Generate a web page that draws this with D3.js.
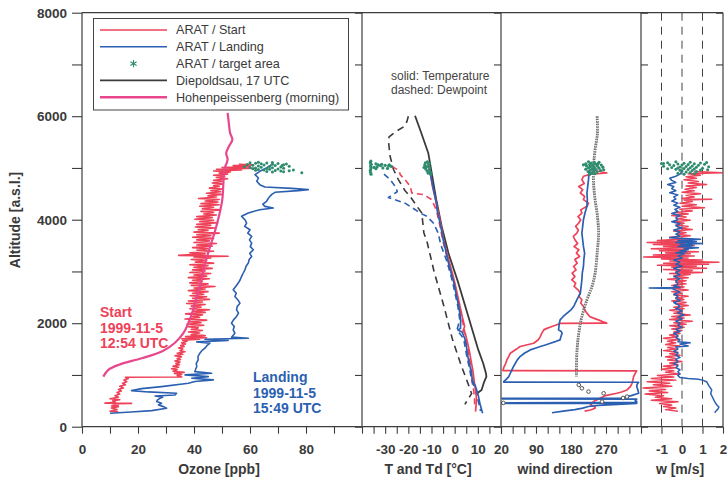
<!DOCTYPE html>
<html>
<head>
<meta charset="utf-8">
<script src="https://cdn.jsdelivr.net/npm/d3@7"></script>
<style>
  body { margin: 0; background: #fff; }
  svg { display: block; font-family: "Liberation Sans", Arial, sans-serif; }
</style>
</head>
<body>
<svg id="chart" width="727" height="480"></svg>
<script>
// ---------- data: [altitude m a.s.l., value] ----------

// Ozone [ppb]
const ozoneStart = [
  [5070,56],[5060,61],[5045,54],[5030,60],[5010,50],[4995,62],[4975,48],[4960,57],[4940,47],[4925,53],
  [4900,49],[4880,52],[4860,47],[4840,51],[4815,48],[4790,52],[4760,47],[4740,50],[4710,46.5],[4690,50.5],
  [4660,47],[4640,49],[4610,45.5],[4590,50],[4560,46],[4540,49.5],[4510,44.5],[4490,50],[4460,45],[4440,48],
  [4410,41.6],[4390,49],[4360,44],[4340,48.5],[4310,42.5],[4290,49],[4260,42],[4240,47],[4210,43],[4190,49.5],
  [4160,42.5],[4140,47],[4110,43.5],[4090,48],[4060,41],[4040,46.5],[4010,40.3],[3990,47],[3960,42],[3940,48.5],
  [3910,41],[3890,46],[3860,40.5],[3840,47.5],[3810,41.5],[3790,45],[3760,40],[3740,49],[3710,41],[3690,46],
  [3660,39.5],[3640,47],[3610,41],[3590,45.5],[3560,40],[3540,48],[3510,41],[3490,46.5],[3460,39.5],[3440,45],
  [3410,41],[3390,47],[3360,38.5],[3340,44],[3310,34.5],[3295,52.2],[3280,40],[3260,46],[3230,39],[3210,44.5],
  [3180,40.5],[3160,47],[3130,38.5],[3110,45],[3080,40],[3060,46.5],[3030,39.5],[3010,44],[2980,38.5],[2960,46],
  [2930,40],[2910,44.5],[2880,38],[2860,45.5],[2830,39.5],[2810,43],[2780,38.5],[2760,45],[2730,39],[2710,47.5],
  [2680,40],[2660,44],[2630,38],[2610,45],[2580,39.5],[2560,43.5],[2530,38.6],[2510,44.5],[2480,39.5],[2460,45.5],
  [2430,38],[2410,43],[2380,37.4],[2360,44],[2330,39],[2310,42.5],[2280,38.5],[2260,45.5],[2230,39.5],[2210,44],
  [2180,37],[2160,43],[2130,39.5],[2110,42],[2080,36.8],[2060,44.5],[2030,38],[2010,42.5],[1980,37.5],[1960,43.5],
  [1930,38],[1910,41.5],[1880,39],[1860,43],[1830,38],[1810,42],[1780,39],[1760,44],[1740,37],[1720,44.5],
  [1700,35.6],[1690,42],[1670,36],[1650,37.5],[1620,35.6],[1600,37],[1570,35.2],[1550,36.5],[1520,34.5],[1500,36],
  [1470,35],[1450,36.8],[1420,34],[1400,36],[1370,33.2],[1350,35.5],[1320,34],[1300,35.2],[1270,33.2],[1250,35],
  [1220,33.5],[1200,34.8],[1170,32.5],[1150,34.5],[1120,32],[1100,34],[1070,32.5],[1050,36.5],[1030,33],[1010,35.6],
  [990,34],[960,35.6],[955,15.5],[930,16.5],[900,15],[870,16],[840,14.5],[810,15.5],[780,13.5],[750,14.8],
  [720,13],[690,14],[660,12.5],[630,13.5],[600,11.8],[570,13],[540,10],[520,13.5],[500,11],[470,12],
  [455,8.2],[450,17.7],[440,11],[420,13],[400,10.5],[388,13],[360,10.5],[330,12.5],[300,10],[290,13]
];
const ozoneLanding = [
  [5064,67.7],[4999,65.9],[4935,63.5],[4871,61.8],[4806,63],[4742,62.4],[4677,63.5],[4632,65.3],[4606,74.9],[4581,80.8],
  [4561,77.2],[4529,68.9],[4490,67.8],[4451,67.1],[4400,66.4],[4355,65.9],[4300,64.6],[4258,65.3],[4226,68.3],[4193,63.5],
  [4160,61.2],[4129,59.4],[4065,57],[4000,58.2],[3935,58.8],[3870,58.1],[3806,60],[3740,59.2],[3677,60.6],[3610,59.8],
  [3548,60.6],[3480,60.1],[3419,61.2],[3350,59.9],[3290,60.6],[3230,59.7],[3162,59.4],[3100,58.6],[3032,58.2],[2970,57.6],
  [2904,57],[2840,56.5],[2775,55.8],[2710,54.9],[2645,54],[2580,55.1],[2517,54.6],[2450,55.7],[2387,56.4],[2320,55.4],
  [2259,55.2],[2195,55.9],[2130,55.2],[2065,54.1],[2000,53.4],[1935,54.4],[1872,54],[1807,54.6],[1730,53.4],[1710,59.4],
  [1691,43.9],[1665,52.2],[1639,41],[1613,45.7],[1565,44.6],[1517,43.9],[1470,42.8],[1420,42.1],[1355,41.4],[1291,41.5],
  [1225,40.8],[1162,41],[1110,40.6],[1065,40.3],[1033,46.3],[1001,36.8],[968,45.1],[936,39.2],[904,46.9],[872,40.3],
  [839,38],[775,28.4],[736,21.3],[698,17.7],[672,23.7],[646,33.8],[614,33.2],[594,26.1],[570,28.8],[549,27.8],
  [515,26.9],[485,26.7],[453,28.4],[420,27.3],[388,29.1],[356,30.2],[311,24.9],[285,17.5],[259,10]
];
const ozoneHohen = [
  [6064,52.0],[5935,52.3],[5677,52.9],[5548,53.7],[5419,52.5],[5290,51.5],[5161,52.0],[4968,50.8],[4710,50.5],[4387,50.1],
  [4065,48.9],[3742,47.3],[3419,45.4],[3097,43.7],[2774,42.4],[2452,40.7],[2129,38.9],[1807,36.2],[1613,33.0],[1452,28.5],
  [1323,21.3],[1194,13.0],[1097,9.4],[968,7.6]
];
const ozoneTarget = [
  [5100,60],[5090,62],[5080,64],[5095,66],[5070,68],[5085,70],[5060,72],[5075,73],[5050,61],[5040,63],
  [5055,65],[5030,67],[5045,69],[5020,71],[5035,74],[5010,60],[5000,62],[5015,64],[4990,66],[5005,68],
  [4980,70],[4995,72],[4970,63],[4960,65],[4975,67],[4950,69],[4940,71],[4930,66],[4920,68],[4945,74],
  [4960,75.5],[4925,72],[4905,78.5],[5065,59],[5025,58],[5110,63],[5105,68],[4985,61],[4955,62],[5045,71.5]
];

// Temperature and dewpoint [°C]
const tempDiep = [
  [6010,-17.1],[5700,-14.6],[5290,-11.4],[4900,-9.9],[4400,-8.0],[3870,-5.6],[3355,-2.7],[2774,1.6],[2130,5.9],[1484,10.2],
  [1227,12.3],[1033,13.5],[967,13.7],[850,12.6],[710,11.6],[633,9.3]
];
const dewDiep = [
  [6000,-20.0],[5900,-20.6],[5810,-21.5],[5700,-25.5],[5600,-28.3],[5540,-28.6],[5400,-28.3],[5230,-27.9],[4970,-26.4],[4775,-24.3],
  [4560,-21.4],[4450,-19.2],[4260,-16.3],[4130,-14.2],[3750,-13.3],[3550,-11.8],[3000,-8.9],[2322,-4.6],[1678,-0.9],[1161,3.0],
  [903,5.2],[640,7.3],[520,5.6],[430,4.4]
];
const tempStart = [
  [5040,-11.2],[4900,-10.5],[4645,-9.6],[4400,-8.3],[4129,-7.0],[3870,-5.8],[3613,-4.8],[3400,-3.6],[3226,-2.6],[2968,-1.0],
  [2774,0.1],[2550,1.2],[2323,2.3],[2100,3.4],[1936,4.3],[1850,3.6],[1800,4.6],[1613,5.6],[1450,6.4],[1291,7.0],
  [1100,7.8],[969,8.2],[850,8.5],[710,9.0],[550,9.4],[388,9.2],[290,9.0]
];
const dewStart = [
  [5031,-27.1],[4950,-24.0],[4870,-23.5],[4774,-21.4],[4645,-19.2],[4516,-18.5],[4484,-13.5],[4445,-12.0],[4387,-9.9],[4258,-8.6],
  [4129,-7.6],[3871,-6.3],[3613,-5.2],[3400,-4.0],[3226,-2.9],[2968,-1.3],[2774,-0.2],[2323,2.0],[1936,3.9],[1613,5.2],
  [1291,6.5],[1033,7.2],[850,7.6],[700,8.2],[550,8.6],[388,8.6]
];
const tempLanding = [
  [4950,-10.8],[4600,-9.2],[4300,-7.8],[4194,-7.6],[3870,-6.0],[3613,-4.9],[3226,-3.0],[2968,-1.5],[2774,-0.3],[2500,0.9],
  [2323,1.8],[2065,2.6],[1900,2.5],[1870,1.4],[1830,3.2],[1700,4.4],[1550,5.1],[1420,5.4],[1230,6.3],[1033,7.3],
  [900,7.6],[800,8.8],[710,9.5],[600,10.2],[450,10.9],[300,11.8],[260,12.1]
];
const dewLanding = [
  [4880,-30.5],[4774,-27.8],[4613,-25.2],[4540,-24.8],[4430,-28.6],[4320,-21.4],[4193,-17.0],[4129,-14.9],[4064,-12.0],[3935,-9.2],
  [3742,-7.1],[3516,-6.0],[3226,-3.6],[2968,-1.9],[2774,-0.8],[2323,1.4],[2065,2.2],[1870,1.0],[1700,3.9],[1420,5.0],
  [1230,5.9],[1033,6.8],[900,7.3],[710,9.0],[450,10.4],[300,11.2]
];
const tempTarget = [
  [5120,-11.8],[5100,-12.6],[5080,-11.2],[5060,-12.9],[5040,-11.5],[5020,-12.2],[5000,-10.8],[4980,-12.5],[4960,-11.0],[4940,-11.9],
  [4920,-10.5],[4900,-11.4],[4880,-10.2],[5090,-10.9],[5010,-13.2]
];
const dewTarget = [
  [5130,-36.2],[5100,-36.4],[5070,-36.0],[5040,-36.3],[5010,-36.1],[4980,-36.2],[4950,-36.4],[4910,-36.3],[4880,-36.1],[5080,-34.0],
  [5060,-33.0],[5070,-31.5],[5050,-30.0],[5040,-28.5],[5030,-27.3],[5020,-33.5],[5000,-31.0],[4990,-29.0],[5010,-34.8],[5060,-28.2],
  [5045,-32.0],[4985,-34.0]
];

// Wind direction [deg]
const windStart = [
  [4950,240],[4903,272],[4880,232],[4840,212],[4774,208],[4700,214],[4640,200],[4580,210],[4516,204],[4450,215],
  [4387,212],[4320,225],[4258,221],[4190,205],[4129,208],[4060,198],[4000,205],[3936,200],[3870,192],[3800,199],
  [3742,195],[3680,186],[3613,190],[3540,197],[3480,188],[3420,200],[3355,194],[3290,202],[3230,190],[3160,196],
  [3097,187],[3030,193],[2968,183],[2900,190],[2839,182],[2775,192],[2710,188],[2645,198],[2581,204],[2520,200],
  [2452,208],[2390,205],[2323,212],[2260,215],[2194,221],[2130,228],[2098,238],[2060,252],[2020,265],[2000,272],
  [1995,152],[1960,140],[1936,131],[1900,118],[1871,110],[1807,105],[1740,101],[1680,96],[1613,84],[1549,49],
  [1500,40],[1420,24],[1360,20],[1291,15],[1220,12],[1162,8],[1085,5],[1078,349],[1030,345],[968,341],
  [900,339],[839,337],[780,333],[710,324],[670,310],[646,298],[600,268],[549,255],[485,238],[420,230],
  [380,242],[356,242],[323,230],[300,215]
];
const windLanding = [
  [4950,229],[4880,226],[4774,225],[4645,223],[4516,221],[4387,222],[4258,221],[4129,216],[4000,212],[3871,210],
  [3742,208],[3613,210],[3484,212],[3355,215],[3226,213],[3097,212],[2968,209],[2839,208],[2710,206],[2581,204],
  [2452,195],[2323,187],[2259,180],[2194,170],[2130,160],[2065,152],[2000,150],[1936,149],[1871,148],[1840,155],
  [1807,157],[1740,154],[1678,152],[1645,140],[1613,127],[1580,114],[1549,101],[1517,88],[1484,75],[1420,60],
  [1355,49],[1291,42],[1227,37],[1162,32],[1097,28],[1033,24],[968,20],[920,14],[872,7],[862,7],
  [859,354],[820,350],[775,349],[710,352],[646,354],[600,335],[581,324],[560,310],[550,310],[549,3],
  [535,4],[532,349],[500,345],[485,349],[470,349],[458,4],[450,4],[448,349],[430,300],[410,250],
  [390,225],[360,210],[330,190],[300,160],[270,131]
];
const windDiep = [
  [6000,247],[5677,248],[5354,242],[5032,238],[4710,238],[4387,242],[4065,248],[3742,251],[3420,248],[2968,242],
  [2710,234],[2452,221],[2130,208],[1807,200],[1420,195],[968,194]
];
const windDiepLow = [
  [807,200],[742,208],[678,225],[646,264],[581,324],[555,314],[484,260],[460,6]
];
const windTarget = [
  [5120,225],[5105,240],[5095,232],[5085,250],[5080,218],[5070,245],[5065,228],[5055,258],[5050,236],[5040,220],
  [5035,248],[5025,230],[5015,262],[5010,240],[5000,225],[4995,252],[4985,235],[4975,218],[4970,244],[4960,230],
  [4950,256],[4940,238],[4930,224],[4920,247],[4905,233],[4890,241],[4880,228],[5110,252],[5060,212],[4965,264]
];

// Vertical wind w [m/s]
const wStart = [
  [4930,0.6],[4905,1.95],[4890,0.3],[4860,0.9],[4830,0.2],[4800,0.7],[4770,0.1],[4740,0.8],[4710,0.3],[4680,1.2],
  [4650,0.2],[4620,0.7],[4590,0.15],[4560,0.6],[4530,0.0],[4500,0.9],[4470,0.2],[4440,0.6],[4410,0.0],[4395,1.45],
  [4380,0.1],[4350,0.5],[4320,-0.1],[4290,0.7],[4260,0.0],[4230,1.1],[4200,-0.1],[4170,0.5],[4140,-0.3],[4110,0.3],
  [4080,-0.5],[4050,0.2],[4020,-0.2],[3990,0.4],[3960,-0.4],[3930,0.1],[3900,-0.3],[3870,0.3],[3840,-0.2],[3810,0.5],
  [3780,-0.4],[3750,0.2],[3720,-0.2],[3690,0.4],[3660,-0.6],[3630,0.3],[3600,-1.2],[3580,0.5],[3560,-1.7],[3540,0.1],
  [3520,-1.4],[3500,0.6],[3480,-0.9],[3460,0.3],[3440,-1.5],[3420,0.2],[3400,-1.1],[3380,0.8],[3360,-0.8],[3340,0.4],
  [3320,-1.4],[3300,0.6],[3280,-1.87],[3260,0.3],[3240,-1.0],[3220,1.0],[3200,-0.6],[3180,1.8],[3160,-0.9],[3140,1.3],
  [3120,-1.2],[3100,0.7],[3080,-0.5],[3060,1.2],[3040,-0.9],[3020,0.5],[3000,-0.3],[2980,1.0],[2960,-0.6],[2940,0.4],
  [2910,-0.4],[2880,0.3],[2850,-0.7],[2820,0.2],[2790,-0.3],[2760,0.2],[2730,-0.5],[2700,0.1],[2670,-0.4],[2640,0.3],
  [2610,-0.5],[2580,0.0],[2550,-0.4],[2520,0.3],[2490,-0.3],[2460,0.1],[2430,-0.5],[2400,0.2],[2370,-0.3],[2340,0.3],
  [2310,-0.4],[2280,0.1],[2250,-0.6],[2220,0.0],[2190,-0.4],[2160,0.4],[2130,-0.5],[2100,0.1],[2070,-0.6],[2040,0.5],
  [2010,-0.4],[1980,0.2],[1950,-0.6],[1920,0.1],[1890,-0.5],[1860,0.0],[1830,-0.4],[1800,-0.1],[1770,-0.6],[1740,-0.2],
  [1710,-0.9],[1680,-0.2],[1650,-0.7],[1620,-0.3],[1590,-0.8],[1560,-0.1],[1530,-0.7],[1500,-0.3],[1470,-0.9],[1440,-0.2],
  [1410,-0.6],[1380,-0.1],[1350,-0.8],[1320,-0.3],[1290,-0.7],[1260,0.0],[1230,-0.6],[1200,-0.2],[1170,-0.9],[1140,-0.3],
  [1110,-1.0],[1080,-0.4],[1050,-0.8],[1020,-0.1],[990,-1.2],[960,-0.4],[930,-1.5],[900,-0.3],[870,-1.7],[840,-0.6],
  [810,-1.4],[780,-0.5],[750,-1.9],[720,-0.8],[690,-1.6],[660,-0.7],[630,-1.8],[600,-0.9],[570,-1.3],[540,-0.5],
  [510,-1.5],[480,-0.2],[450,-1.1],[420,-0.5],[390,-0.9],[360,-0.3],[330,-0.8],[300,-0.2]
];
const wLanding = [
  [4930,0.0],[4880,-0.1],[4840,-0.3],[4800,-0.6],[4760,-0.5],[4720,-0.3],[4680,-0.7],[4640,-0.4],[4600,-0.5],[4560,-0.3],
  [4520,-0.6],[4480,-0.2],[4440,-0.4],[4400,-0.3],[4360,-0.5],[4320,-0.2],[4280,-0.4],[4240,-0.1],[4200,-0.35],[4160,-0.2],
  [4120,-0.5],[4080,-0.1],[4040,-0.3],[4000,-0.2],[3960,-0.5],[3920,-0.1],[3880,-0.3],[3840,0.0],[3800,-0.4],[3760,-0.1],
  [3720,-0.3],[3680,-0.1],[3650,-0.6],[3620,0.9],[3600,-0.2],[3580,0.7],[3560,-0.3],[3540,1.0],[3520,-0.1],[3500,0.5],
  [3480,-0.2],[3460,0.8],[3440,0.1],[3420,0.3],[3400,-0.1],[3380,0.2],[3360,-0.3],[3340,0.1],[3300,-0.2],[3260,0.0],
  [3220,-0.4],[3180,-0.1],[3140,-0.3],[3100,0.0],[3060,-0.4],[3020,-0.1],[2980,-0.3],[2940,-0.1],[2900,-0.4],[2860,-0.1],
  [2820,-0.3],[2760,-0.2],[2720,-0.4],[2690,-0.1],[2680,-1.6],[2670,-0.5],[2640,-0.3],[2600,-0.1],[2560,-0.4],[2520,-0.2],
  [2480,-0.3],[2440,-0.1],[2400,-0.4],[2360,-0.2],[2320,-0.1],[2280,-0.3],[2240,0.0],[2200,-0.2],[2160,0.1],[2120,-0.2],
  [2080,0.0],[2040,-0.3],[2000,-0.1],[1960,-0.2],[1920,0.0],[1880,-0.3],[1840,-0.1],[1800,-0.4],[1760,-0.2],[1720,-0.3],
  [1680,-0.1],[1640,-0.2],[1620,0.4],[1600,-0.1],[1560,0.3],[1540,-0.3],[1500,-0.2],[1460,-0.4],[1420,-0.2],[1380,-0.3],
  [1340,-0.1],[1300,-0.3],[1260,-0.2],[1220,-0.4],[1180,-0.2],[1140,-0.3],[1100,-0.1],[1060,-0.2],[1020,-0.1],[990,-0.2],
  [950,-0.1],[930,0.3],[915,0.8],[900,1.0],[870,1.2],[800,1.3],[710,1.45],[640,1.4],[560,1.5],[480,1.6],
  [420,1.7],[380,1.8],[340,1.75],[300,1.65],[270,1.6]
];
const wTarget = [
  [5120,-0.3],[5110,0.4],[5100,-0.7],[5095,0.9],[5090,0.1],[5085,-1.0],[5080,0.6],[5075,-0.2],[5070,1.1],[5065,0.3],
  [5060,-0.6],[5055,0.0],[5050,0.8],[5045,-0.4],[5040,0.5],[5035,-0.9],[5030,0.2],[5025,1.3],[5020,-0.1],[5015,0.7],
  [5010,-0.5],[5005,0.4],[5000,-0.2],[4995,1.0],[4990,0.1],[4985,-0.7],[4980,0.6],[4975,-0.3],[4970,0.3],[4960,0.9],
  [4955,-0.1],[4950,0.5],[4940,0.0],[4930,0.7],[4920,0.2],[4910,0.4],[4900,-0.2],[4890,0.6],[4880,0.1],[5105,1.2],
  [4965,1.25],[5085,-0.9]
];

// Axis ticks and legend entries
const altTicks = [0, 1000, 2000, 3000, 4000, 5000, 6000, 7000, 8000];
const ozoneTicks = [0, 10, 20, 30, 40, 50, 60, 70, 80, 90];
const tempTicks = [-40, -35, -30, -25, -20, -15, -10, -5, 0, 5, 10, 15, 20];
const dirTicks = [0, 30, 60, 90, 120, 150, 180, 210, 240, 270, 300, 330];
const wTicks = [-2, -1, 0, 1, 2];
const legendLabels = ["ARAT / Start", "ARAT / Landing", "ARAT / target area", "Diepoldsau, 17 UTC", "Hohenpeissenberg (morning)"];

// ---------- drawing ----------
const C = {
  start: "#ee4259", landing: "#2b5fb1", target: "#2e8c6e",
  diep: "#3a3a3a", hohen: "#e8478e", axis: "#3d3d3d", text: "#3a3a3a"
};

const svg = d3.select("#chart");
const yTop = 12.7, yBot = 426.7;
const y = d3.scaleLinear().domain([0, 8000]).range([yBot, yTop]);
const xO3 = d3.scaleLinear().domain([0, 100]).range([82, 362]);
const xT = d3.scaleLinear().domain([-40, 20]).range([362, 501]);
const xDir = d3.scaleLinear().domain([0, 360]).range([501, 641]);
const xW = d3.scaleLinear().domain([-2, 2]).range([641, 723]);

const defs = svg.append("defs");
function panel(id, xs) {
  const [x0, x1] = xs.range();
  defs.append("clipPath").attr("id", id)
    .append("rect").attr("x", x0).attr("y", yTop).attr("width", x1 - x0).attr("height", yBot - yTop);
  return svg.append("g").attr("clip-path", `url(#${id})`);
}

function drawLine(g, data, xs, color, width, dash, curve) {
  const gen = d3.line().x(d => xs(d[1])).y(d => y(d[0]));
  if (curve) gen.curve(curve);
  g.append("path").datum(data)
    .attr("d", gen)
    .attr("fill", "none")
    .attr("stroke", color)
    .attr("stroke-width", width)
    .attr("stroke-linejoin", "round")
    .attr("stroke-dasharray", dash || null);
}
function drawDots(g, data, xs, color, r) {
  g.selectAll(null).data(data).enter().append("circle")
    .attr("cx", d => xs(d[1])).attr("cy", d => y(d[0]))
    .attr("r", r).attr("fill", color);
}

// Ozone panel
const gO3 = panel("clipO3", xO3);
drawLine(gO3, ozoneStart, xO3, C.start, 1.6);
drawLine(gO3, ozoneLanding, xO3, C.landing, 1.6);
drawLine(gO3, ozoneHohen, xO3, C.hohen, 2.2, null, d3.curveCatmullRom);
drawDots(gO3, ozoneTarget, xO3, C.target, 1.5);

// Temperature / dewpoint panel
const gT = panel("clipT", xT);
drawLine(gT, dewDiep, xT, C.diep, 1.6, "7,5");
drawLine(gT, tempDiep, xT, C.diep, 1.8);
drawLine(gT, dewStart, xT, C.start, 1.6, "6,4");
drawLine(gT, dewLanding, xT, C.landing, 1.6, "6,4");
drawLine(gT, tempStart, xT, C.start, 1.7);
drawLine(gT, tempLanding, xT, C.landing, 1.7);
drawDots(gT, tempTarget, xT, C.target, 1.6);
drawDots(gT, dewTarget, xT, C.target, 1.6);

// Wind direction panel
const gD = panel("clipD", xDir);
drawLine(gD, windStart, xDir, C.start, 1.7);
drawLine(gD, windLanding, xDir, C.landing, 1.7);
drawLine(gD, windDiep, xDir, "#6a6a6a", 2.8, "1.6,0.9", d3.curveCatmullRom);
drawLine(gD, windDiep, xDir, "#dcdcdc", 0.8, "0.8,1.7", d3.curveCatmullRom);
gD.selectAll(null).data(windDiepLow).enter().append("circle")
  .attr("cx", d => xDir(d[1])).attr("cy", d => y(d[0]))
  .attr("r", 1.8).attr("fill", "#fff").attr("stroke", "#555").attr("stroke-width", 1);
drawDots(gD, windTarget, xDir, C.target, 1.6);

// Vertical wind panel
const gW = panel("clipW", xW);
[-1, 0, 1].forEach(v => {
  gW.append("line").attr("x1", xW(v)).attr("x2", xW(v)).attr("y1", yTop).attr("y2", yBot)
    .attr("stroke", "#444").attr("stroke-width", 1).attr("stroke-dasharray", "8,6");
});
drawLine(gW, wStart, xW, C.start, 1.5);
drawLine(gW, wLanding, xW, C.landing, 1.5);
drawDots(gW, wTarget, xW, C.target, 1.5);

// ---------- axes ----------
const tickFont = { size: "13.5px", weight: "bold" };
function styleAxis(g) {
  g.select(".domain").remove();
  g.selectAll(".tick line").attr("stroke", C.axis).attr("stroke-width", 1.1);
  g.selectAll(".tick text").attr("fill", C.text)
    .style("font-size", tickFont.size).style("font-weight", tickFont.weight)
    .style("font-family", '"Liberation Sans", Arial, sans-serif');
}
function bottomAxis(xs, values, fmt) {
  const g = svg.append("g").attr("transform", `translate(0,${yBot})`)
    .call(d3.axisBottom(xs).tickValues(values).tickSize(7).tickPadding(11).tickFormat(fmt));
  styleAxis(g);
}
bottomAxis(xO3, ozoneTicks, d => (d % 20 === 0 ? String(d) : ""));
bottomAxis(xT, tempTicks, d => (d % 10 === 0 && d > -40 ? String(d) : ""));
bottomAxis(xDir, dirTicks, d => ([90, 180, 270].includes(d) ? String(d) : ""));
bottomAxis(xW, wTicks, d => (d > -2 ? String(d) : ""));

// altitude axis
const gy = svg.append("g").attr("transform", `translate(${xO3(0)},0)`)
  .call(d3.axisLeft(y).tickValues(altTicks).tickSize(10).tickPadding(5)
    .tickFormat(d => (d % 2000 === 0 ? String(d) : "")));
styleAxis(gy);

// inner tick marks on panel borders
function innerTicks(x, dir) {
  const ax = dir < 0 ? d3.axisLeft(y) : d3.axisRight(y);
  const g = svg.append("g").attr("transform", `translate(${x},0)`)
    .call(ax.tickValues(altTicks).tickSize(7).tickFormat(() => ""));
  styleAxis(g);
}
innerTicks(362, -1);
innerTicks(501, -1);
innerTicks(641, 1);
innerTicks(723, -1);

// frame
const frame = svg.append("g").attr("stroke", C.axis).attr("stroke-width", 1.2).attr("fill", "none");
frame.append("line").attr("x1", 82).attr("x2", 723).attr("y1", yTop).attr("y2", yTop);
frame.append("line").attr("x1", 82).attr("x2", 723).attr("y1", yBot).attr("y2", yBot);
[82, 362, 501, 641, 723].forEach(x => {
  frame.append("line").attr("x1", x).attr("x2", x).attr("y1", yTop).attr("y2", yBot);
});

// axis titles
const titleStyle = sel => sel.attr("fill", C.text).style("font-size", "14px").style("font-weight", "bold");
titleStyle(svg.append("text").attr("x", 219).attr("y", 474).attr("text-anchor", "middle").text("Ozone [ppb]"));
titleStyle(svg.append("text").attr("x", 428).attr("y", 474).attr("text-anchor", "middle").text("T and Td [°C]"));
titleStyle(svg.append("text").attr("x", 565).attr("y", 474).attr("text-anchor", "middle").text("wind direction"));
titleStyle(svg.append("text").attr("x", 680).attr("y", 474).attr("text-anchor", "middle").text("w [m/s]"));
titleStyle(svg.append("text").attr("transform", "translate(20,220) rotate(-90)")
  .attr("text-anchor", "middle").text("Altitude [a.s.l.]"));

// flight annotations
function block(x, y0, lines, color) {
  const t = svg.append("text").attr("x", x).attr("y", y0).attr("fill", color)
    .style("font-size", "14px").style("font-weight", "bold");
  lines.forEach((s, i) => t.append("tspan").attr("x", x).attr("dy", i === 0 ? 0 : 15.7).text(s));
}
block(100, 317, ["Start", "1999-11-5", "12:54 UTC"], C.start);
block(253, 382, ["Landing", "1999-11-5", "15:49 UTC"], C.landing);

// line style note
const note = svg.append("text").attr("x", 391).attr("y", 80).attr("fill", "#444").style("font-size", "12px");
note.append("tspan").attr("x", 391).text("solid: Temperature");
note.append("tspan").attr("x", 391).attr("dy", 13.6).text("dashed: Dewpoint");

// legend
const lg = svg.append("g");
lg.append("rect").attr("x", 93.5).attr("y", 18.5).attr("width", 255).attr("height", 91.5)
  .attr("fill", "#fff").attr("stroke", "#444").attr("stroke-width", 1);
const legendStyle = [
  { color: C.start, kind: "line", w: 1.6 },
  { color: C.landing, kind: "line", w: 1.6 },
  { color: C.target, kind: "star" },
  { color: C.diep, kind: "line", w: 1.6 },
  { color: C.hohen, kind: "line", w: 2.6 }
];
legendLabels.forEach((label, i) => {
  const yy = 30 + i * 16.8;
  const s = legendStyle[i];
  if (s.kind === "line") {
    lg.append("line").attr("x1", 100).attr("x2", 167).attr("y1", yy).attr("y2", yy)
      .attr("stroke", s.color).attr("stroke-width", s.w);
  } else {
    lg.append("path").attr("transform", `translate(133.5,${yy})`)
      .attr("d", "M0,-3.6V3.6M-3.1,-1.8L3.1,1.8M-3.1,1.8L3.1,-1.8")
      .attr("stroke", s.color).attr("stroke-width", 1.1).attr("fill", "none");
  }
  lg.append("text").attr("x", 176).attr("y", yy + 4.3).attr("fill", C.text)
    .style("font-size", "12.6px").text(label);
});
</script>
</body>
</html>
